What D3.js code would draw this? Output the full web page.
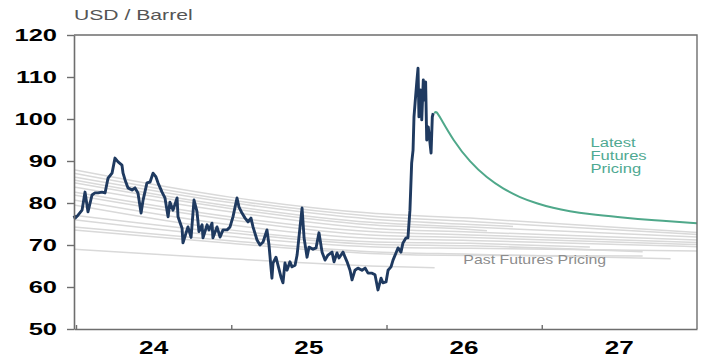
<!DOCTYPE html>
<html>
<head>
<meta charset="utf-8">
<script src="https://cdn.jsdelivr.net/npm/d3@7"></script>
<style>
  html, body { margin: 0; padding: 0; background: #fff; }
  svg { display: block; font-family: "Liberation Sans", Arial, Helvetica, sans-serif; }
</style>
</head>
<body>
<svg id="chart" width="705" height="358"></svg>
<script>
// ---- Data -------------------------------------------------------------
// Brent spot price, [decimal year, USD/bbl]
const priceHistory = [
  [2023.987, 77.0], [2023.994, 76.4], [2024.013, 77.1], [2024.039, 78.3], [2024.058, 82.6],
  [2024.077, 77.9], [2024.103, 81.9], [2024.122, 82.4], [2024.142, 82.4], [2024.167, 82.6],
  [2024.187, 82.4], [2024.206, 85.9], [2024.232, 87.1], [2024.251, 90.7], [2024.271, 89.8],
  [2024.296, 89.0], [2024.303, 87.1], [2024.316, 85.5], [2024.335, 83.6], [2024.361, 83.1],
  [2024.380, 83.6], [2024.399, 82.4], [2024.419, 77.6], [2024.432, 80.7], [2024.457, 84.8],
  [2024.477, 85.0], [2024.496, 87.1], [2024.515, 86.2], [2024.528, 84.8], [2024.554, 82.6],
  [2024.573, 81.2], [2024.593, 76.7], [2024.605, 80.2], [2024.625, 78.3], [2024.651, 81.2],
  [2024.657, 76.7], [2024.683, 74.0], [2024.689, 70.5], [2024.709, 72.9], [2024.721, 74.3],
  [2024.741, 71.8], [2024.760, 80.7], [2024.779, 78.0], [2024.792, 73.2], [2024.812, 74.8],
  [2024.818, 71.7], [2024.844, 74.8], [2024.857, 73.6], [2024.876, 75.2], [2024.882, 71.7],
  [2024.908, 74.3], [2024.928, 71.9], [2024.947, 73.6], [2024.973, 73.6], [2024.992, 74.3],
  [2025.011, 76.7], [2025.037, 81.2], [2025.050, 79.0], [2025.069, 77.6], [2025.089, 76.4],
  [2025.108, 75.5], [2025.127, 76.4], [2025.140, 74.3], [2025.166, 71.2], [2025.185, 70.0],
  [2025.205, 70.7], [2025.230, 73.6], [2025.243, 70.0], [2025.262, 62.1], [2025.269, 65.7],
  [2025.288, 67.1], [2025.301, 65.2], [2025.320, 62.4], [2025.333, 61.0], [2025.346, 65.7],
  [2025.359, 64.0], [2025.378, 66.0], [2025.391, 64.8], [2025.411, 65.2], [2025.424, 67.6],
  [2025.443, 74.3], [2025.456, 78.8], [2025.469, 71.7], [2025.488, 67.1], [2025.501, 69.5],
  [2025.527, 69.0], [2025.546, 69.3], [2025.565, 72.9], [2025.585, 68.3], [2025.604, 66.4],
  [2025.623, 67.6], [2025.649, 68.3], [2025.662, 66.0], [2025.681, 68.1], [2025.694, 66.9],
  [2025.720, 68.3], [2025.733, 67.1], [2025.746, 66.0], [2025.765, 64.0], [2025.778, 61.7],
  [2025.797, 64.0], [2025.816, 64.5], [2025.842, 64.0], [2025.862, 64.5], [2025.881, 63.3],
  [2025.907, 63.3], [2025.926, 62.9], [2025.945, 59.3], [2025.965, 62.1], [2025.977, 61.0],
  [2025.997, 61.2], [2026.010, 64.0], [2026.029, 64.8], [2026.042, 66.4], [2026.061, 68.1],
  [2026.074, 69.3], [2026.093, 68.3], [2026.106, 70.5], [2026.126, 71.7], [2026.138, 71.7],
  [2026.151, 78.3], [2026.162, 89.5], [2026.171, 92.6], [2026.177, 100.5], [2026.184, 103.8],
  [2026.195, 108.8], [2026.203, 112.1], [2026.209, 100.5], [2026.220, 106.9], [2026.227, 99.8],
  [2026.237, 109.3], [2026.243, 104.5], [2026.252, 108.8], [2026.259, 95.0], [2026.269, 98.1],
  [2026.280, 94.3], [2026.287, 91.9], [2026.295, 100.5], [2026.301, 101.4]
];

// Latest futures strip, [decimal year, USD/bbl]
const latestFutures = [
  [2026.308, 101.4], [2026.321, 101.9], [2026.345, 100.4], [2026.428, 95.0], [2026.538, 89.7],
  [2026.647, 86.0], [2026.750, 83.4], [2026.860, 81.3], [2026.969, 79.9], [2027.072, 78.8],
  [2027.182, 78.0], [2027.291, 77.4], [2027.504, 76.6], [2027.717, 75.9], [2028.0, 75.2]
];

// Past futures curves: values at the anchor dates, then the curve's last point
const pastAnchorYears = [2023.987, 2024.992, 2025.894, 2026.538];
const pastCurveValues = [
  [87.9, 81.4, 77.6, 76.4], [87.1, 80.7, 76.9, 75.6], [86.2, 80.1, 76.2, 74.9],
  [85.5, 79.3, 75.4, 74.3], [84.8, 78.7, 74.8, 73.7], [83.8, 77.9, 74.0, 73.1],
  [82.6, 76.7, 73.2, 72.4], [81.9, 76.0, 72.4, 71.8], [80.7, 74.8, 71.6, 71.1],
  [79.5, 73.6, 70.8, 70.4], [77.1, 72.9, 70.2, 69.8], [76.0, 72.0, 69.6, 69.2],
  [74.3, 71.0, 68.4, 67.8], [73.6, 70.4, 68.0, 67.5], [69.0, 66.7, 65.0]
];
const pastCurveEnds = [
  [2028.0, 73.0], [2028.0, 72.5], [2026.815, 74.4],
  [2028.0, 71.9], [2026.647, 73.4], [2028.0, 71.2],
  [2028.0, 70.6], [2028.0, 70.1], [2028.0, 69.6],
  [2027.31, 69.5], [2027.65, 68.4], [2028.0, 68.6],
  [2027.83, 66.7], [2027.65, 67.4], [2026.31, 64.6]
];

const yTicks = [50, 60, 70, 80, 90, 100, 110, 120];
const yearBounds = [2024, 2025, 2026, 2027];
const yearLabels = ["24", "25", "26", "27"];

// ---- Layout -------------------------------------------------------------
const svg = d3.select("#chart");
const plotLeft = 74, plotRight = 697, plotTop = 35, plotBottom = 329;

const x = d3.scaleLinear().domain([2023.987, 2028]).range([plotLeft, plotRight]);
const y = d3.scaleLinear().domain([50, 120]).range([plotBottom, plotTop]);

// Past futures curves (light grey)
const pastCurves = pastCurveValues.map((vals, i) =>
  vals.map((v, j) => [pastAnchorYears[j], v]).concat([pastCurveEnds[i]])
);
const smoothLine = d3.line()
  .x(d => x(d[0])).y(d => y(d[1]))
  .curve(d3.curveMonotoneX);

svg.append("g").selectAll("path")
  .data(pastCurves)
  .join("path")
  .attr("d", smoothLine)
  .attr("fill", "none")
  .attr("stroke", "#d9d9d9")
  .attr("stroke-width", 1.5);

// Spot price
svg.append("path")
  .datum(priceHistory)
  .attr("d", d3.line().x(d => x(d[0])).y(d => y(d[1])))
  .attr("fill", "none")
  .attr("stroke", "#1f3a60")
  .attr("stroke-width", 2.9)
  .attr("stroke-linejoin", "round");

// Latest futures strip
svg.append("path")
  .datum(latestFutures)
  .attr("d", d3.line().x(d => x(d[0])).y(d => y(d[1])).curve(d3.curveBasis))
  .attr("fill", "none")
  .attr("stroke", "#4fa88a")
  .attr("stroke-width", 2);

// ---- Axes & frame -------------------------------------------------------
const axisColor = "#6e6e6e";

const yAxis = svg.append("g")
  .attr("transform", `translate(${plotLeft},0)`)
  .call(d3.axisLeft(y).tickValues(yTicks).tickSize(7).tickSizeOuter(0).tickFormat(""));
yAxis.select(".domain").attr("stroke", axisColor).attr("stroke-width", 1.6);
yAxis.selectAll(".tick line").attr("stroke", axisColor).attr("stroke-width", 1.4);

const xAxis = svg.append("g")
  .attr("transform", `translate(0,${plotBottom})`)
  .call(d3.axisBottom(x).tickValues(yearBounds).tickSize(-4).tickSizeOuter(0).tickFormat(""));
xAxis.select(".domain").attr("stroke", axisColor).attr("stroke-width", 1.6);
xAxis.selectAll(".tick line").attr("stroke", axisColor).attr("stroke-width", 1.4);

// top and right frame
svg.append("path")
  .attr("d", `M${plotLeft},${plotTop}H${plotRight}V${plotBottom}`)
  .attr("fill", "none")
  .attr("stroke", axisColor)
  .attr("stroke-width", 1.4);

// y tick labels
svg.append("g").selectAll("text")
  .data(yTicks)
  .join("text")
  .attr("transform", d => `translate(${plotLeft - 17},${y(d)}) scale(1.5,1)`)
  .attr("dy", "0.36em")
  .attr("text-anchor", "end")
  .attr("font-size", 17)
  .attr("font-weight", "bold")
  .attr("fill", "#000")
  .text(d => d);

// x (year) labels, centred within each year
svg.append("g").selectAll("text")
  .data(yearBounds)
  .join("text")
  .attr("transform", d => `translate(${x(d + 0.5)},353.5) scale(1.45,1)`)
  .attr("text-anchor", "middle")
  .attr("font-size", 18)
  .attr("font-weight", "bold")
  .attr("fill", "#000")
  .text((d, i) => yearLabels[i]);

// unit label
svg.append("text")
  .attr("transform", `translate(${plotLeft},20) scale(1.41,1)`)
  .attr("font-size", 15)
  .attr("fill", "#555")
  .text("USD / Barrel");

// series annotations
const latestLabel = svg.append("text")
  .attr("transform", "translate(590.5,146.7) scale(1.38,1)")
  .attr("font-size", 12)
  .attr("fill", "#4fa992");
["Latest", "Futures", "Pricing"].forEach((t, i) => {
  latestLabel.append("tspan").attr("x", 0).attr("dy", i === 0 ? 0 : 13.3).text(t);
});

svg.append("text")
  .attr("transform", "translate(463.3,264) scale(1.22,1)")
  .attr("font-size", 13)
  .attr("fill", "#8c8c8c")
  .text("Past Futures Pricing");
</script>
</body>
</html>
